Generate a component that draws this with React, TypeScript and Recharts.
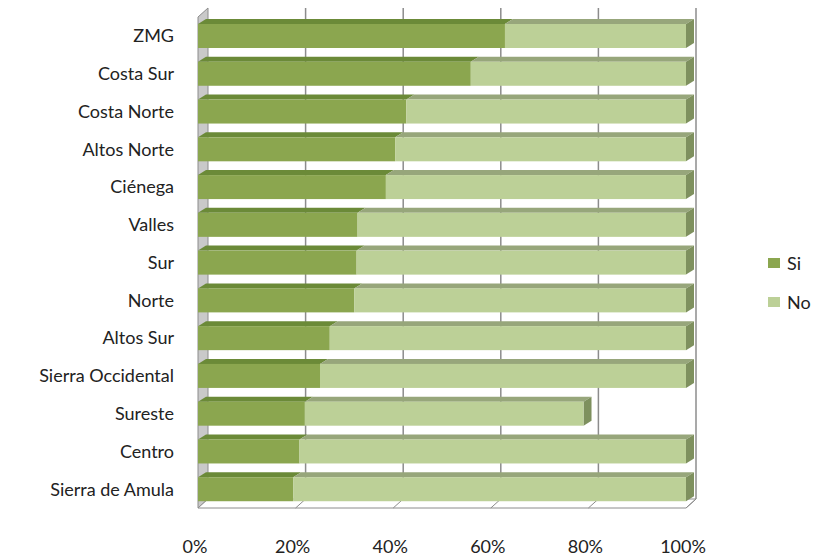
import React from "react";
import { BarChart, Bar, XAxis, YAxis, ReferenceArea } from "recharts";

const regions = [
  "ZMG",
  "Costa Sur",
  "Costa Norte",
  "Altos Norte",
  "Ciénega",
  "Valles",
  "Sur",
  "Norte",
  "Altos Sur",
  "Sierra Occidental",
  "Sureste",
  "Centro",
  "Sierra de Amula",
];
const si = [62.9, 55.9, 42.7, 40.4, 38.5, 32.7, 32.5, 32.0, 27.0, 25.0, 21.9, 20.8, 19.5];
const no = [37.1, 44.1, 57.3, 59.6, 61.5, 67.3, 67.5, 68.0, 73.0, 75.0, 57.1, 79.2, 80.5];
const xTicks = [0, 20, 40, 60, 80, 100];

const data = regions.map((name, i) => ({ name, Si: si[i], No: no[i] }));

const FONT = "Lato, 'Open Sans', sans-serif";
const SI_FRONT = "#8ba64f";
const SI_TOP = "#6b8a38";
const NO_FRONT = "#bcd097";
const NO_TOP = "#97a67b";
const NO_SIDE = "#7e905e";

// depth of bars and of the back wall
const BX = 8;
const BY = 5;
const WX = 10;
const WY = 9;

const Box = (props: any) => {
  const { x, y, width, height } = props;
  const bottom = y + height;
  const right = x + width;
  return (
    <g>
      {/* left wall */}
      <polygon
        points={`${x},${y} ${x + WX},${y - WY} ${x + WX},${bottom - WY} ${x},${bottom}`}
        fill="#c9c9c9"
        stroke="#8c8c8c"
        strokeWidth={1}
      />
      {/* floor */}
      <polygon
        points={`${x},${bottom} ${x + WX},${bottom - WY} ${right + WX},${bottom - WY} ${right},${bottom}`}
        fill="#ffffff"
        stroke="#8c8c8c"
        strokeWidth={1}
      />
      {xTicks.map((t) => {
        const gx = x + (width * t) / 100;
        return (
          <g key={t}>
            {t > 0 && (
              <line
                x1={gx + WX}
                x2={gx + WX}
                y1={y - WY}
                y2={bottom - WY}
                stroke="#8c8c8c"
                strokeWidth={1.5}
              />
            )}
            {t > 0 && (
              <line x1={gx} y1={bottom} x2={gx + WX} y2={bottom - WY} stroke="#8c8c8c" strokeWidth={1} />
            )}
          </g>
        );
      })}
    </g>
  );
};

const SiShape = (props: any) => {
  const { x, y, width, height } = props;
  if (!width) return null;
  return (
    <g>
      <polygon
        points={`${x},${y} ${x + BX},${y - BY} ${x + width + BX},${y - BY} ${x + width},${y}`}
        fill={SI_TOP}
      />
      <rect x={x} y={y} width={width} height={height} fill={SI_FRONT} />
    </g>
  );
};

const NoShape = (props: any) => {
  const { x, y, width, height } = props;
  if (!width) return null;
  const r = x + width;
  return (
    <g>
      <polygon
        points={`${x},${y} ${x + BX},${y - BY} ${r + BX},${y - BY} ${r},${y}`}
        fill={NO_TOP}
      />
      <polygon
        points={`${r},${y} ${r + BX},${y - BY} ${r + BX},${y + height - BY} ${r},${y + height}`}
        fill={NO_SIDE}
      />
      <rect x={x} y={y} width={width} height={height} fill={NO_FRONT} />
    </g>
  );
};

const legendItems = [
  { label: "Si", color: SI_FRONT },
  { label: "No", color: NO_FRONT },
];

export default function App() {
  return (
    <div style={{ position: "absolute", left: 0, top: 0, width: 819, height: 558, background: "#fff" }}>
      <BarChart
        width={819}
        height={558}
        data={data}
        layout="vertical"
        margin={{ top: 17, right: 133, bottom: 0, left: 0 }}
        barSize={24}
      >
        <XAxis
          type="number"
          domain={[0, 100]}
          ticks={xTicks}
          tickFormatter={(v) => `${v}%`}
          axisLine={false}
          tickLine={false}
          tickSize={0}
          tickMargin={32}
          height={50}
          tick={{ fill: "#222", fontSize: 18, fontFamily: FONT, dx: -3 }}
        />
        <YAxis
          type="category"
          dataKey="name"
          width={198}
          axisLine={false}
          tickLine={false}
          tickSize={0}
          tickMargin={24}
          interval={0}
          tick={{ fill: "#222", fontSize: 18, fontFamily: FONT }}
        />
        <ReferenceArea x1={0} x2={100} shape={<Box />} fill="none" />
        <Bar dataKey="Si" stackId="a" fill={SI_FRONT} shape={<SiShape />} isAnimationActive={false} />
        <Bar dataKey="No" stackId="a" fill={NO_FRONT} shape={<NoShape />} isAnimationActive={false} />
      </BarChart>
      <div
        style={{
          position: "absolute",
          left: 768,
          top: 253,
          fontFamily: FONT,
          fontSize: 18,
          color: "#222",
        }}
      >
        {legendItems.map((item, i) => (
          <div
            key={item.label}
            style={{ display: "flex", alignItems: "center", height: 20, marginBottom: i === 0 ? 19 : 0 }}
          >
            <span style={{ width: 12, height: 10, background: item.color, marginRight: 7 }} />
            <span>{item.label}</span>
          </div>
        ))}
      </div>
    </div>
  );
}
